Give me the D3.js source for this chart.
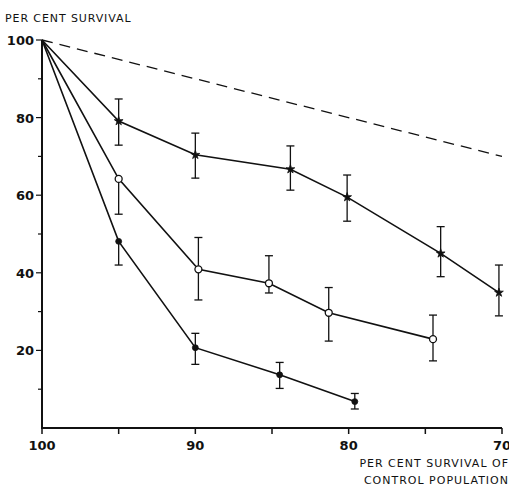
<!DOCTYPE html>
<html>
<head>
<meta charset="utf-8">
<script src="https://cdn.jsdelivr.net/npm/d3@7"></script>
<style>
  body { margin: 0; background: #fff; }
  text { font-family: "DejaVu Sans", sans-serif; fill: #111; }
</style>
</head>
<body>
<div id="chart"></div>
<script>
var w = 509;
var h = 486;

// series: x = per cent survival of control, y = per cent survival, lo/hi = error bar ends
var starX  = [100, 95, 90, 83.8, 80.1, 74.0, 70.2];
var starY  = [100, 79.1, 70.4, 66.7, 59.5, 45.0, 34.9];
var starLo = [100, 72.9, 64.4, 61.3, 53.3, 39.0, 28.9];
var starHi = [100, 84.8, 76.0, 72.7, 65.2, 51.9, 42.0];

var openX  = [100, 95, 89.8, 85.2, 81.3, 74.5];
var openY  = [100, 64.2, 40.9, 37.3, 29.7, 22.9];
var openLo = [100, 55.1, 33.0, 34.8, 22.4, 17.3];
var openHi = [100, 64.2, 49.1, 44.4, 36.2, 29.1];

var fillX  = [100, 95, 90, 84.5, 79.6];
var fillY  = [100, 48.1, 20.7, 13.7, 6.8];
var fillLo = [100, 42.0, 16.4, 10.2, 4.9];
var fillHi = [100, 48.1, 24.4, 16.9, 8.9];

var refX = [100, 70];
var refY = [100, 70];

var xTicks = [100, 95, 90, 85, 80, 75, 70];
var xLabels = [100, 90, 80, 70];
var yMajor = [100, 80, 60, 40, 20];
var yMinor = [90, 70, 50, 30, 10];

var svg = d3.select("#chart")
    .append("svg")
    .attr("width", w)
    .attr("height", h);

var x = d3.scaleLinear().domain([100, 70]).range([42, 502]);
var y = d3.scaleLinear().domain([0, 100]).range([428, 40]);

// axes
svg.append("line")
    .attr("x1", x(100)).attr("x2", x(100))
    .attr("y1", y(100)).attr("y2", y(0))
    .style("stroke", "#111").style("stroke-width", 2);
svg.append("line")
    .attr("x1", x(100) - 1).attr("x2", x(70))
    .attr("y1", y(0)).attr("y2", y(0))
    .style("stroke", "#111").style("stroke-width", 2);

svg.selectAll(".xtick")
    .data(xTicks)
    .enter()
    .append("line")
    .attr("x1", function(d) { return x(d); })
    .attr("x2", function(d) { return x(d); })
    .attr("y1", y(0))
    .attr("y2", y(0) + 6)
    .style("stroke", "#111").style("stroke-width", 1.5);

svg.selectAll(".xlab")
    .data(xLabels)
    .enter()
    .append("text")
    .attr("x", function(d) { return x(d); })
    .attr("y", 450)
    .attr("text-anchor", "middle")
    .style("font-size", "13px")
    .style("font-weight", "bold")
    .text(function(d) { return d; });

svg.selectAll(".ymaj")
    .data(yMajor)
    .enter()
    .append("line")
    .attr("x1", x(100) - 6).attr("x2", x(100))
    .attr("y1", function(d) { return y(d); })
    .attr("y2", function(d) { return y(d); })
    .style("stroke", "#111").style("stroke-width", 1.2);

svg.selectAll(".ymin")
    .data(yMinor)
    .enter()
    .append("line")
    .attr("x1", x(100) - 4).attr("x2", x(100))
    .attr("y1", function(d) { return y(d); })
    .attr("y2", function(d) { return y(d); })
    .style("stroke", "#111").style("stroke-width", 1.2);

svg.selectAll(".ylab")
    .data(yMajor)
    .enter()
    .append("text")
    .attr("x", x(100) - 8)
    .attr("y", function(d) { return y(d) + 5; })
    .attr("text-anchor", "end")
    .style("font-size", "13px")
    .style("font-weight", "bold")
    .text(function(d) { return d; });

svg.append("text")
    .attr("x", 5).attr("y", 22)
    .style("font-size", "11px")
    .style("letter-spacing", "0.9px")
    .text("PER CENT SURVIVAL");

svg.append("text")
    .attr("x", 509).attr("y", 467)
    .attr("text-anchor", "end")
    .style("font-size", "11px")
    .style("letter-spacing", "1px")
    .text("PER CENT SURVIVAL OF");
svg.append("text")
    .attr("x", 509).attr("y", 484)
    .attr("text-anchor", "end")
    .style("font-size", "11px")
    .style("letter-spacing", "1px")
    .text("CONTROL POPULATION");

// dashed reference line
svg.append("line")
    .attr("x1", x(refX[0])).attr("y1", y(refY[0]))
    .attr("x2", x(refX[1])).attr("y2", y(refY[1]))
    .style("stroke", "#111")
    .style("stroke-width", 1.3)
    .style("stroke-dasharray", "11,7");

var line = d3.line()
    .x(function(d) { return x(d.x); })
    .y(function(d) { return y(d.y); });

function drawSeries(xs, ys, lo, hi, kind) {
    var data = xs.map(function(v, i) {
        return { x: v, y: ys[i], lo: lo[i], hi: hi[i] };
    });
    var g = svg.append("g");
    g.append("path")
        .datum(data)
        .attr("d", line)
        .style("fill", "none")
        .style("stroke", "#111")
        .style("stroke-width", 1.6);

    var bars = data.slice(1);
    g.selectAll(".eb")
        .data(bars)
        .enter()
        .append("line")
        .attr("x1", function(d) { return x(d.x); })
        .attr("x2", function(d) { return x(d.x); })
        .attr("y1", function(d) { return y(d.hi); })
        .attr("y2", function(d) { return y(d.lo); })
        .style("stroke", "#111").style("stroke-width", 1.3);
    g.selectAll(".capTop")
        .data(bars.filter(function(d) { return d.hi > d.y; }))
        .enter()
        .append("line")
        .attr("x1", function(d) { return x(d.x) - 4; })
        .attr("x2", function(d) { return x(d.x) + 4; })
        .attr("y1", function(d) { return y(d.hi); })
        .attr("y2", function(d) { return y(d.hi); })
        .style("stroke", "#111").style("stroke-width", 1.3);
    g.selectAll(".capBot")
        .data(bars.filter(function(d) { return d.lo < d.y; }))
        .enter()
        .append("line")
        .attr("x1", function(d) { return x(d.x) - 4; })
        .attr("x2", function(d) { return x(d.x) + 4; })
        .attr("y1", function(d) { return y(d.lo); })
        .attr("y2", function(d) { return y(d.lo); })
        .style("stroke", "#111").style("stroke-width", 1.3);

    var sym;
    if (kind == "star") {
        sym = d3.symbol().type(d3.symbolStar).size(24);
    } else {
        sym = d3.symbol().type(d3.symbolCircle).size(kind == "open" ? 38 : 28);
    }
    g.selectAll(".pt")
        .data(bars)
        .enter()
        .append("path")
        .attr("d", sym)
        .attr("transform", function(d) { return "translate(" + x(d.x) + "," + y(d.y) + ")"; })
        .style("fill", kind == "open" ? "#fff" : "#111")
        .style("stroke", "#111")
        .style("stroke-width", kind == "open" ? 1.3 : 0.8);
}

drawSeries(starX, starY, starLo, starHi, "star");
drawSeries(openX, openY, openLo, openHi, "open");
drawSeries(fillX, fillY, fillLo, fillHi, "fill");
</script>
</body>
</html>
